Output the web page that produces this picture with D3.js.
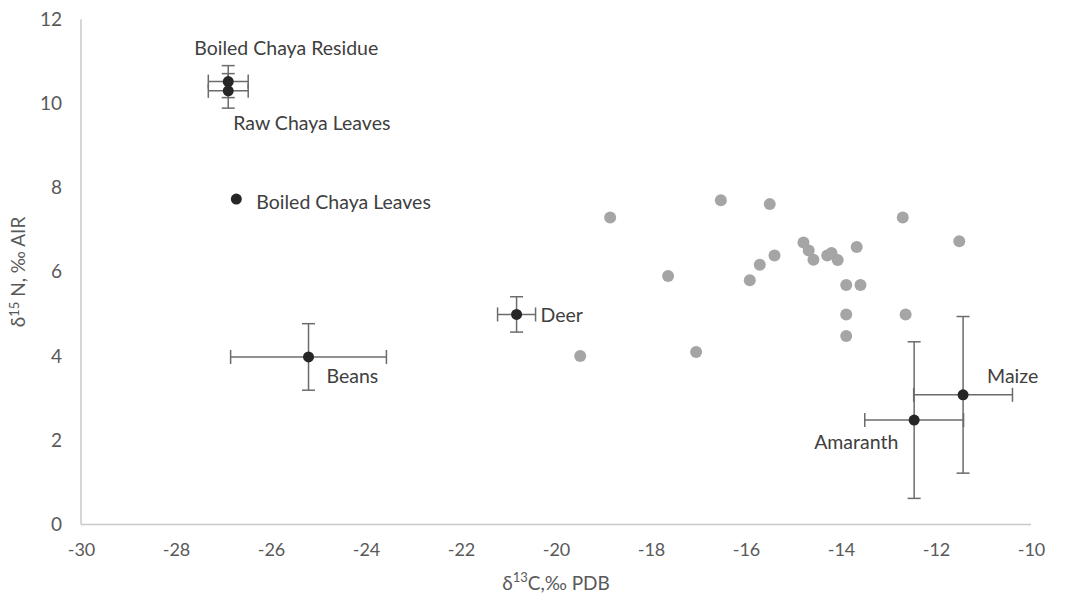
<!DOCTYPE html>
<html><head><meta charset="utf-8">
<script src="https://cdn.jsdelivr.net/npm/d3@7"></script>
<style>
html,body{margin:0;padding:0;background:#fff;}
text{font-family:Lato,"Open Sans",sans-serif;}
</style></head>
<body><svg id="chart" width="1067" height="600"></svg>
<script>
// Food samples (black points, with SD error bars)
const foodNames = ["Boiled Chaya Residue","Raw Chaya Leaves","Boiled Chaya Leaves","Beans","Deer","Maize","Amaranth"];
const foodX     = [-26.9, -26.9, -26.73, -25.21, -20.83, -11.43, -12.46];
const foodY     = [10.52, 10.30, 7.73, 3.98, 4.99, 3.08, 2.48];
const foodXErr  = [0.42, 0.42, 0, 1.64, 0.40, 1.04, 1.04];
const foodYErr  = [0.38, 0.41, 0, 0.79, 0.42, 1.86, 1.86];
// Human bone collagen samples (gray points)
const boneX = [-18.86,-16.53,-15.50,-12.70,-11.51,-14.79,-14.68,-14.58,-15.40,-15.71,-15.92,-17.64,-14.29,-14.20,-14.07,-13.67,-13.89,-13.59,-13.89,-12.64,-13.89,-17.05,-19.49];
const boneY = [7.29,7.70,7.61,7.29,6.73,6.70,6.51,6.29,6.39,6.17,5.80,5.90,6.39,6.45,6.28,6.59,5.69,5.69,4.99,4.99,4.48,4.10,4.00];
const xTicks = [-30,-28,-26,-24,-22,-20,-18,-16,-14,-12,-10];
const yTicks = [0,2,4,6,8,10,12];

const svg = d3.select("#chart");
const x = d3.scaleLinear().domain([-30,-10]).range([81,1031]);
const y = d3.scaleLinear().domain([0,12]).range([524.5,19.3]);

const axisColor = "#c8c8c8", textColor = "#595959";

// axes lines
svg.append("line").attr("x1",x(-30)).attr("x2",x(-10)).attr("y1",y(0)).attr("y2",y(0))
  .attr("stroke",axisColor).attr("stroke-width",1.5);
svg.append("line").attr("x1",x(-30)).attr("x2",x(-30)).attr("y1",y(0)).attr("y2",y(12))
  .attr("stroke",axisColor).attr("stroke-width",1.5);

const xAxis = svg.append("g").attr("transform",`translate(0,${y(0)})`)
  .call(d3.axisBottom(x).tickValues(xTicks).tickSize(0).tickPadding(19).tickFormat(d=>d));
xAxis.select(".domain").remove();
xAxis.selectAll("text").attr("fill",textColor).attr("font-size",18).attr("font-family","Lato,sans-serif");

const yAxis = svg.append("g").attr("transform",`translate(${x(-30)},0)`)
  .call(d3.axisLeft(y).tickValues(yTicks).tickSize(0).tickPadding(19).tickFormat(d=>d));
yAxis.select(".domain").remove();
yAxis.selectAll("text").attr("fill",textColor).attr("font-size",19).attr("font-family","Lato,sans-serif");

// axis titles
const xt = svg.append("text").attr("x",556).attr("y",590).attr("text-anchor","middle")
  .attr("fill",textColor).attr("font-size",19);
xt.append("tspan").text("δ");
xt.append("tspan").attr("dy",-8).attr("font-size",13).text("13");
xt.append("tspan").attr("dy",8).text("C,‰ PDB");

const yt = svg.append("text").attr("transform","translate(25,272) rotate(-90)").attr("text-anchor","middle")
  .attr("fill",textColor).attr("font-size",19);
yt.append("tspan").text("δ");
yt.append("tspan").attr("dy",-6).attr("font-size",13).text("15");
yt.append("tspan").attr("dy",6).text(" N, ‰ AIR");

// gray points
svg.append("g").selectAll("circle").data(boneX.map((v,i)=>[v,boneY[i]])).join("circle")
  .attr("cx",d=>x(d[0])).attr("cy",d=>y(d[1])).attr("r",6).attr("fill","#a5a5a5");

// error bars
const food = foodNames.map((n,i)=>({n, x:foodX[i], y:foodY[i], ex:foodXErr[i], ey:foodYErr[i]}));
const eb = svg.append("g").attr("stroke","#6b6b6b").attr("stroke-width",1.5).attr("fill","none");
food.filter(d=>d.ex>0).forEach(d=>{
  eb.append("line").attr("x1",x(d.x-d.ex)).attr("x2",x(d.x+d.ex)).attr("y1",y(d.y)).attr("y2",y(d.y));
  eb.append("line").attr("x1",x(d.x-d.ex)).attr("x2",x(d.x-d.ex)).attr("y1",y(d.y)-7).attr("y2",y(d.y)+7);
  eb.append("line").attr("x1",x(d.x+d.ex)).attr("x2",x(d.x+d.ex)).attr("y1",y(d.y)-7).attr("y2",y(d.y)+7);
});
food.filter(d=>d.ey>0).forEach(d=>{
  eb.append("line").attr("x1",x(d.x)).attr("x2",x(d.x)).attr("y1",y(d.y-d.ey)).attr("y2",y(d.y+d.ey));
  eb.append("line").attr("x1",x(d.x)-6.5).attr("x2",x(d.x)+6.5).attr("y1",y(d.y-d.ey)).attr("y2",y(d.y-d.ey));
  eb.append("line").attr("x1",x(d.x)-6.5).attr("x2",x(d.x)+6.5).attr("y1",y(d.y+d.ey)).attr("y2",y(d.y+d.ey));
});

// black points
svg.append("g").selectAll("circle").data(food).join("circle")
  .attr("cx",d=>x(d.x)).attr("cy",d=>y(d.y)).attr("r",5.5).attr("fill","#262626");

// labels
const labelPos = {
  "Boiled Chaya Residue": {dx:58, dy:-34, anchor:"middle"},
  "Raw Chaya Leaves": {dx:5, dy:32, anchor:"start"},
  "Boiled Chaya Leaves": {dx:20, dy:2, anchor:"start"},
  "Beans": {dx:18, dy:19, anchor:"start"},
  "Deer": {dx:24, dy:0, anchor:"start"},
  "Maize": {dx:24, dy:-19, anchor:"start"},
  "Amaranth": {dx:-100, dy:21, anchor:"start"}
};
svg.append("g").selectAll("text").data(food).join("text")
  .attr("x",d=>x(d.x)+labelPos[d.n].dx).attr("y",d=>y(d.y)+labelPos[d.n].dy)
  .attr("dominant-baseline","central").attr("text-anchor",d=>labelPos[d.n].anchor)
  .attr("fill","#404040").attr("font-size",19.5).text(d=>d.n);
</script></body></html>
